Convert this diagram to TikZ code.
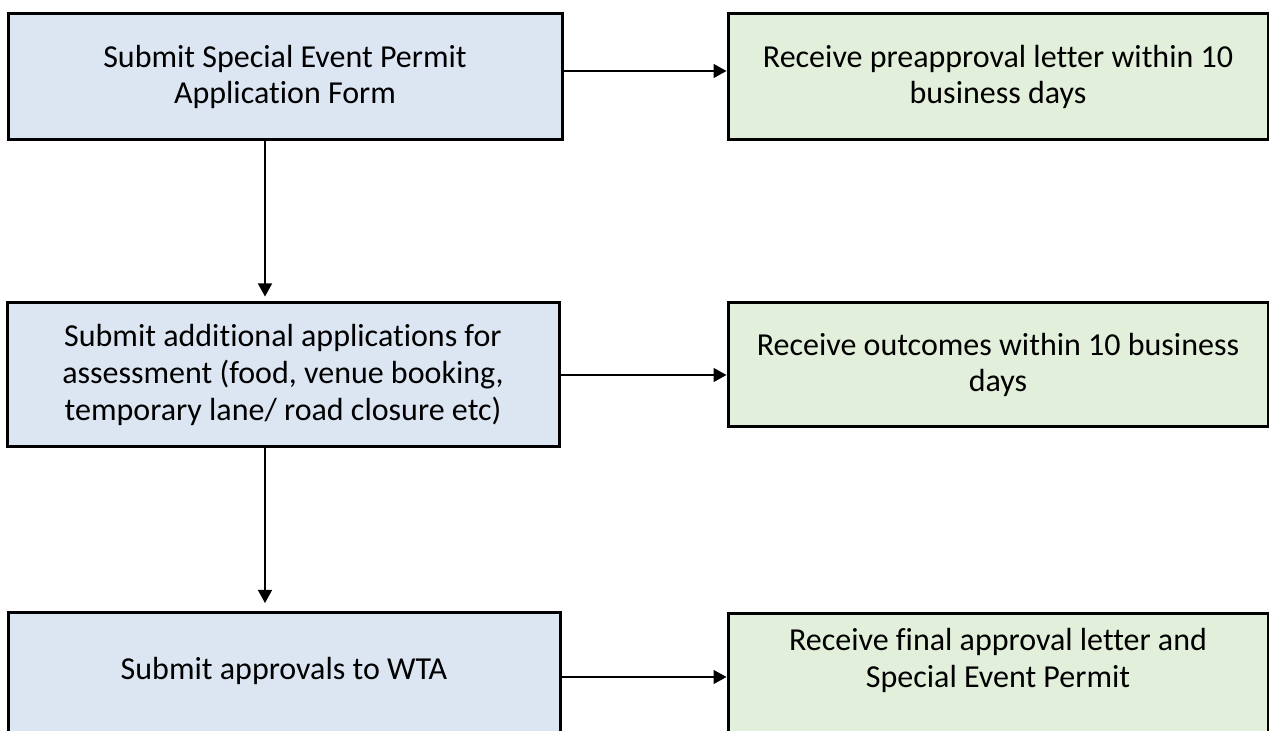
\documentclass[tikz,border=0pt]{standalone}
\usepackage{fontspec}
\setmainfont{Carlito}[Ligatures=NoCommon]
\usepackage{tikz}
\usetikzlibrary{arrows.meta,positioning,calc}

\definecolor{appblue}{HTML}{DCE6F2}
\definecolor{outgreen}{HTML}{E2EFDA}

\begin{document}
\begin{tikzpicture}[
  x=0.5pt, y=-0.5pt,
  >={Triangle[length=6.5pt,width=7pt]}, line width=0.7pt,
  font=\fontsize{16pt}{18.3pt}\selectfont,
  appbox/.style={rectangle, draw, line width=1.5pt, fill=appblue, align=center, inner sep=0pt},
  outbox/.style={rectangle, draw, line width=1.5pt, fill=outgreen, align=center, inner sep=0pt}
]
\useasboundingbox (0,0) rectangle (1269,731);

\node[appbox, minimum width=277pt, minimum height=63pt] (permit) at (285,77)
  {Submit Special Event Permit\\Application Form};
\node[outbox, minimum width=270pt, minimum height=63pt] (preapp) at (998,77)
  {Receive preapproval letter within 10\\business days};

\node[appbox, minimum width=276pt, minimum height=72pt] (extra) at (283,375)
  {Submit additional applications for\\assessment (food, venue booking,\\temporary lane/ road closure etc)};
\node[outbox, minimum width=270pt, minimum height=62pt] (outcome) at (998,365)
  {Receive outcomes within 10 business\\days};

\node[appbox, anchor=north, minimum width=276pt, text height=33.5pt, text depth=40pt] (wta) at (284,611)
  {Submit approvals to WTA};
\node[outbox, anchor=north, minimum width=270pt, text height=37pt, text depth=40pt] (final) at (998,612)
  {Receive final approval letter and\\Special Event Permit};
\coordinate (wtaout) at ([yshift=-33pt]wta.north east);

\draw[->] ([yshift=3pt]permit.east) -- ([yshift=3pt]preapp.west);
\draw[->] (extra.east) -- (outcome.west |- extra.east);
\draw[->] (wtaout) -- (final.west |- wtaout);

\draw[->, shorten >=2.5pt] ([xshift=-10pt]permit.south) -- ([xshift=-10pt]permit.south |- extra.north);
\draw[->, shorten >=4pt] ([xshift=-10pt]permit.south |- extra.south) -- ([xshift=-10pt]permit.south |- wta.north);
\end{tikzpicture}
\end{document}
